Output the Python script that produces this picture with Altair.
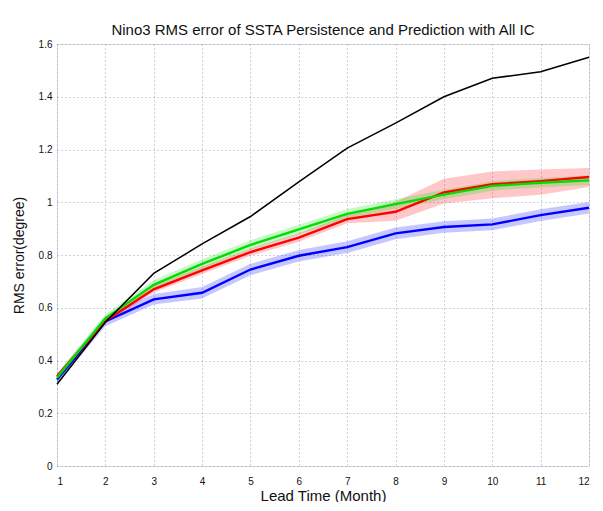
import altair as alt
import pandas as pd

lead = [1, 2, 3, 4, 5, 6, 7, 8, 9, 10, 11, 12]
persistence = [0.31, 0.545, 0.73, 0.842, 0.946, 1.077, 1.205, 1.30, 1.40, 1.47, 1.495, 1.55]
red = [0.34, 0.55, 0.67, 0.742, 0.811, 0.866, 0.936, 0.964, 1.037, 1.068, 1.08, 1.096]
red_lo = [0.33, 0.54, 0.658, 0.728, 0.797, 0.85, 0.92, 0.93, 0.995, 1.015, 1.028, 1.058]
red_hi = [0.35, 0.562, 0.682, 0.756, 0.825, 0.882, 0.952, 1.002, 1.089, 1.117, 1.124, 1.13]
green = [0.335, 0.56, 0.687, 0.766, 0.838, 0.897, 0.956, 0.993, 1.029, 1.062, 1.074, 1.083]
green_lo = [0.318, 0.545, 0.67, 0.748, 0.82, 0.879, 0.938, 0.975, 1.011, 1.044, 1.056, 1.065]
green_hi = [0.352, 0.575, 0.704, 0.784, 0.856, 0.915, 0.974, 1.011, 1.047, 1.08, 1.092, 1.101]
blue = [0.328, 0.548, 0.632, 0.657, 0.745, 0.797, 0.83, 0.882, 0.906, 0.916, 0.951, 0.979]
blue_lo = [0.31, 0.53, 0.612, 0.635, 0.723, 0.775, 0.808, 0.86, 0.884, 0.894, 0.929, 0.957]
blue_hi = [0.346, 0.566, 0.652, 0.679, 0.767, 0.819, 0.852, 0.904, 0.928, 0.938, 0.973, 1.001]

series_names = ["blue", "red", "green", "black"]
series_colors = ["#0000ff", "#ff0000", "#00dd00", "#000000"]

rows = []
for name, vals, lo, hi in [("blue", blue, blue_lo, blue_hi),
                           ("red", red, red_lo, red_hi),
                           ("green", green, green_lo, green_hi)]:
    for i, x in enumerate(lead):
        rows.append({"lead": x, "series": name, "v": vals[i], "lo": lo[i], "hi": hi[i]})
bands = pd.DataFrame(rows)

lrows = []
for name, vals in [("blue", blue), ("red", red), ("green", green), ("black", persistence)]:
    for i, x in enumerate(lead):
        lrows.append({"lead": x, "series": name, "v": vals[i]})
lines = pd.DataFrame(lrows)

xscale = alt.Scale(domain=[1, 12], nice=False, zero=False)
yscale = alt.Scale(domain=[0, 1.6], nice=False)
cscale = alt.Scale(domain=series_names, range=series_colors)

xaxis = alt.Axis(values=lead, format="d", title="Lead Time (Month)", grid=True,
                 gridDash=[1, 3], gridColor="#8890b0", gridOpacity=0.8,
                 ticks=False, labelPadding=10, titlePadding=2,
                 labelFont="Liberation Sans", labelFontSize=10, labelColor="#111",
                 titleFont="Liberation Sans", titleFontSize=15, titleFontWeight="normal",
                 titleColor="#111", domain=False)
yaxis = alt.Axis(values=[0, 0.2, 0.4, 0.6, 0.8, 1.0, 1.2, 1.4, 1.6], format="~g",
                 title="RMS error(degree)", grid=True,
                 gridDash=[1, 3], gridColor="#8890b0", gridOpacity=0.8,
                 ticks=False, labelPadding=5, titlePadding=12,
                 labelFont="Liberation Sans", labelFontSize=10, labelColor="#111",
                 titleFont="Liberation Sans", titleFontSize=14, titleFontWeight="normal",
                 titleColor="#111", domain=False)

band_layer = alt.Chart(bands).mark_area(opacity=0.22).encode(
    x=alt.X("lead:Q", scale=xscale, axis=xaxis),
    y=alt.Y("lo:Q", scale=yscale, axis=yaxis),
    y2="hi:Q",
    color=alt.Color("series:N", scale=cscale, legend=None),
    detail="series:N",
)

line_layer = alt.Chart(lines).mark_line().encode(
    x=alt.X("lead:Q", scale=xscale),
    y=alt.Y("v:Q", scale=yscale),
    color=alt.Color("series:N", scale=cscale, legend=None),
    strokeWidth=alt.condition("datum.series == 'black'", alt.value(1.5), alt.value(2.4)),
    detail="series:N",
)

chart = alt.layer(band_layer, line_layer).properties(
    width=532, height=422,
    title=alt.TitleParams("Nino3 RMS error of SSTA Persistence and Prediction with All IC",
                          font="Liberation Sans", fontSize=15, fontWeight="normal",
                          color="#111", offset=1, anchor="middle"),
    autosize=alt.AutoSizeParams(type="none"),
    padding={"left": 49, "top": 36, "right": 6, "bottom": 36},
).configure_view(
    stroke="#5a6a9a", strokeWidth=1
).configure(background="white")

chart.save("out.html", embed_options={"renderer": "svg", "actions": False})
